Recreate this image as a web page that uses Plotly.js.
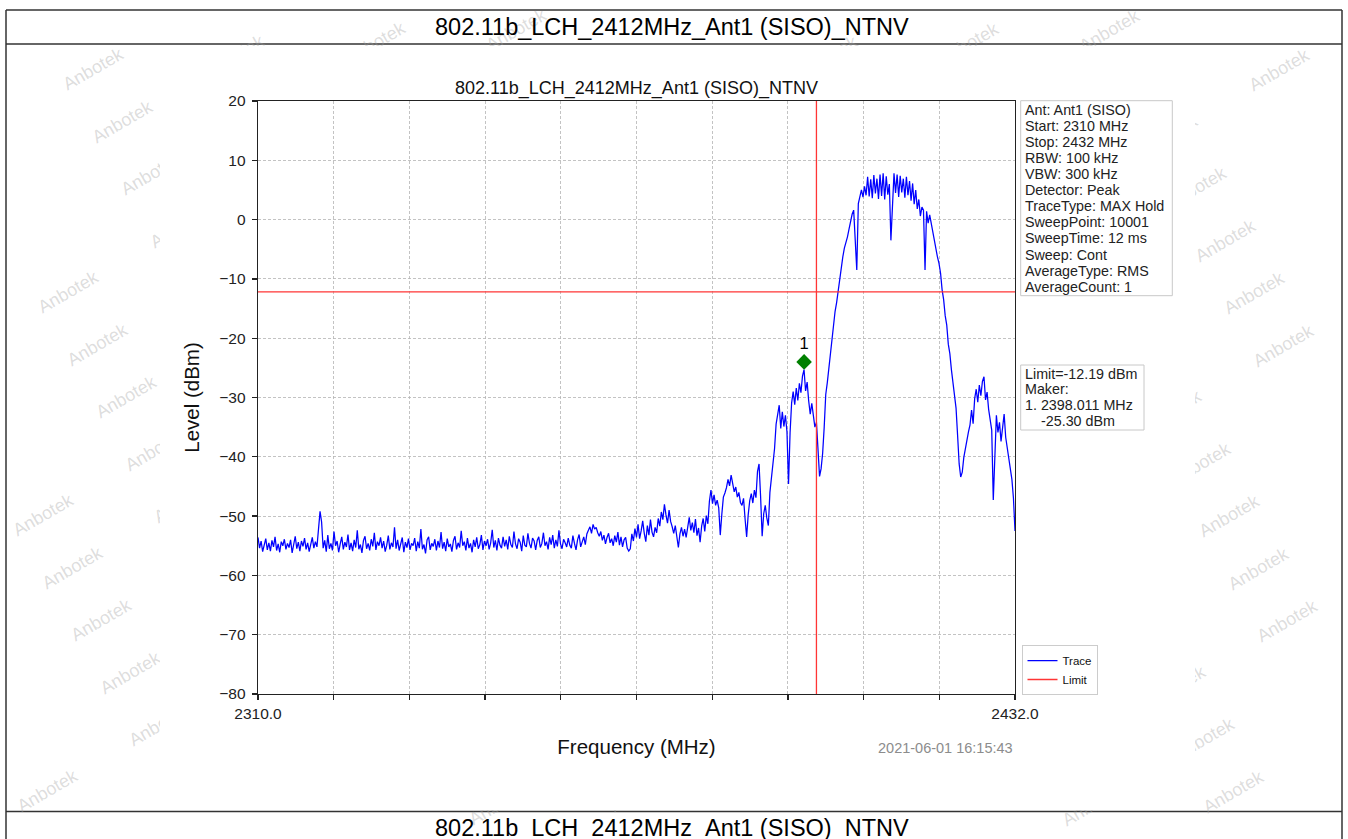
<!DOCTYPE html>
<html><head><meta charset="utf-8">
<script src="https://cdn.plot.ly/plotly-3.0.1.min.js"></script>
<style>
html,body{margin:0;padding:0;background:#fff;width:1348px;height:839px;overflow:hidden;}
#bg{position:absolute;left:0;top:0;width:1348px;height:839px;}
#chart{position:absolute;left:160px;top:46px;width:1035px;height:764px;}
</style></head><body>
<div id="bg"></div><div id="chart"></div>
<script>
// ---------------- data ----------------
const pageTitle = '802.11b_LCH_2412MHz_Ant1 (SISO)_NTNV';
const chartTitle = '802.11b_LCH_2412MHz_Ant1 (SISO)_NTNV';
const xAxisTitle = 'Frequency (MHz)';
const yAxisTitle = 'Level (dBm)';
const timestamp = '2021-06-01 16:15:43';
const watermarkText = 'Anbotek';

const startFreq = 2310;
const stopFreq = 2432;
const freqStep = 0.25;   // MHz between the read-off points
const levelRange = [-80, 20];

// Trace levels (dBm), every 0.25 MHz from 2310 MHz
const traceLevels = [
-53.6,-55.4,-54.2,-56.0,-54.9,-53.8,-55.7,-54.5,-55.9,-54.1,-55.2,-53.5,-55.8,-54.7,-56.1,-54.3,-55.0,-53.9,-55.6,-54.6,
-55.3,-54.0,-56.2,-54.8,-53.4,-55.5,-54.4,-55.9,-54.2,-55.1,-53.7,-55.6,-54.5,-56.0,-54.9,-53.6,-55.4,-54.3,-55.2,-51.5,
-49.2,-51.0,-55.4,-54.1,-56.0,-53.2,-55.5,-54.6,-55.8,-52.6,-55.0,-54.2,-56.1,-54.7,-53.5,-55.6,-54.4,-55.2,-53.1,-55.7,
-54.5,-55.9,-54.0,-55.3,-52.4,-55.6,-54.8,-56.2,-54.1,-53.4,-55.5,-54.6,-55.8,-53.9,-55.1,-52.8,-55.7,-54.3,-55.0,-53.6,
-55.4,-54.2,-56.0,-54.9,-53.3,-55.6,-54.5,-55.2,-51.9,-55.5,-54.0,-55.8,-54.7,-53.6,-56.1,-54.4,-55.3,-53.8,-55.7,-54.6,
-55.0,-53.7,-55.9,-54.3,-55.4,-52.2,-55.6,-54.8,-56.3,-54.0,-53.5,-55.7,-54.6,-55.1,-53.9,-55.8,-54.2,-55.3,-52.7,-55.5,
-54.4,-55.9,-53.8,-55.2,-54.7,-56.0,-54.1,-53.4,-55.6,-54.5,-55.3,-52.5,-55.0,-54.3,-55.8,-53.7,-55.4,-54.6,-56.1,-54.0,
-55.2,-53.6,-55.5,-54.8,-53.2,-55.7,-54.2,-55.0,-53.9,-55.6,-54.5,-52.3,-55.3,-54.1,-55.8,-53.7,-54.9,-55.4,-53.5,-55.1,
-54.0,-55.6,-53.4,-54.8,-55.3,-52.6,-54.7,-55.5,-53.8,-54.4,-55.9,-53.3,-54.9,-55.2,-52.9,-54.6,-55.4,-53.7,-54.2,-55.7,
-54.1,-53.5,-55.3,-54.6,-52.8,-55.0,-54.3,-55.6,-53.6,-54.8,-53.2,-55.4,-54.0,-55.1,-52.4,-54.7,-55.5,-53.9,-54.5,-55.2,
-53.7,-54.9,-55.4,-53.3,-54.6,-55.7,-54.0,-53.1,-55.2,-54.4,-53.5,-54.8,-53.0,-52.4,-51.8,-52.9,-51.4,-52.2,-51.9,-52.8,
-53.4,-52.6,-54.1,-53.2,-54.7,-53.6,-52.9,-54.5,-53.8,-55.0,-53.3,-54.4,-52.7,-54.9,-53.5,-55.2,-54.0,-53.6,-55.4,-55.9,
-55.5,-53.0,-54.2,-52.1,-53.6,-51.4,-53.8,-52.5,-50.8,-52.9,-54.3,-51.6,-53.2,-50.6,-52.7,-53.5,-51.9,-52.8,-50.4,-51.7,
-49.3,-50.6,-48.0,-49.8,-51.2,-49.0,-50.9,-51.8,-52.9,-51.6,-53.7,-55.3,-53.0,-51.9,-53.4,-52.2,-53.6,-51.5,-50.2,-52.4,
-51.1,-52.8,-50.5,-53.3,-52.0,-54.4,-51.7,-50.4,-52.6,-49.9,-51.3,-47.5,-45.6,-47.9,-46.4,-48.2,-47.3,-48.6,-53.2,-49.7,
-46.8,-46.1,-45.2,-43.8,-44.9,-43.1,-44.6,-45.9,-45.1,-46.8,-46.0,-47.7,-48.2,-47.0,-50.5,-53.5,-49.8,-47.4,-46.2,-47.8,
-45.6,-46.9,-42.5,-41.2,-46.7,-53.4,-49.6,-48.2,-50.3,-51.6,-46.0,-43.5,-40.8,-38.6,-34.5,-32.6,-31.3,-35.2,-32.4,-34.9,
-33.0,-35.8,-44.6,-36.0,-30.9,-29.0,-31.2,-28.4,-30.5,-27.6,-29.2,-26.4,-25.3,-28.9,-27.4,-30.6,-32.8,-31.0,-33.6,-35.0,
-34.2,-39.4,-43.3,-42.0,-39.4,-35.0,-29.5,-27.5,-25.0,-23.5,-20.5,-18.6,-15.5,-14.0,-12.0,-10.2,-7.5,-6.3,-4.8,-4.0,
-2.9,-1.6,-0.1,0.9,1.6,-3.5,-8.5,2.7,4.2,5.0,3.8,5.6,4.1,7.2,3.9,6.8,3.6,7.5,4.4,6.9,
3.5,7.6,4.0,7.8,3.4,7.3,4.2,6.0,-3.5,2.4,7.8,4.5,7.6,3.8,7.4,4.6,6.9,3.7,7.2,4.1,
6.5,3.2,6.1,2.6,5.0,1.8,3.4,0.6,2.1,1.6,-8.5,1.4,-0.6,0.8,-0.7,-2.2,-3.5,-4.6,-6.3,-7.4,
-9.0,-11.8,-13.5,-16.2,-17.8,-21.0,-22.6,-25.3,-27.4,-29.6,-31.8,-36.4,-41.2,-43.4,-42.6,-40.1,-38.5,-37.6,-35.8,-34.6,
-32.1,-34.4,-30.2,-28.6,-30.8,-27.9,-29.7,-27.3,-26.5,-30.4,-29.1,-32.0,-33.6,-35.5,-47.3,-38.8,-33.0,-35.9,-34.2,-37.4,
-34.8,-32.8,-36.7,-38.5,-40.3,-42.4,-43.8,-47.0,-52.5
];

const limitLevel = -12.19;       // dBm
const bandEdgeFreq = 2400;       // MHz
const markerFreq = 2398.011;     // MHz
const markerLevel = -25.30;      // dBm
const markerLabel = '1';
const markerDisplayOffset = 1.3; // the diamond sits slightly above the point in the picture

const xTickVals = [2310, 2322.2, 2334.4, 2346.6, 2358.8, 2371.0, 2383.2, 2395.4, 2407.6, 2419.8, 2432];
const xTickText = ['2310.0', '', '', '', '', '', '', '', '', '', '2432.0'];
const yTickVals = [20, 10, 0, -10, -20, -30, -40, -50, -60, -70, -80];

const infoLines = ['Ant: Ant1 (SISO)', 'Start: 2310 MHz', 'Stop: 2432 MHz', 'RBW: 100 kHz', 'VBW: 300 kHz',
  'Detector: Peak', 'TraceType: MAX Hold', 'SweepPoint: 10001', 'SweepTime: 12 ms', 'Sweep: Cont',
  'AverageType: RMS', 'AverageCount: 1'];
const limitInfoLines = ['Limit=-12.19 dBm', 'Maker:', '1. 2398.011 MHz', '-25.30 dBm'];
const limitInfoIndent = [0, 0, 0, 16];

// ---------------- styling / layout ----------------
const FONT = 'Liberation Sans, Arial, Helvetica, sans-serif';
const traceFreqs = traceLevels.map((_, i) => startFreq + i * freqStep);

// background page (frame, outer titles, watermark)
const bgShapes = [];
const frameLine = {color: '#333', width: 1.5};
[[6, 10, 1342, 10], [6, 44, 1342, 44], [6, 811.5, 1342, 811.5], [6, 10, 6, 839], [1342, 10, 1342, 839]]
  .forEach(s => bgShapes.push({type: 'line', xref: 'x', yref: 'y', x0: s[0], y0: s[1], x1: s[2], y1: s[3], line: frameLine}));
const bgAnn = [];
for (let i = -12; i <= 3; i++) {
  for (let k = -6; k <= 18; k++) {
    const x = 10 - 141 * i + 29 * k, y = 187 + 13 * i + 52.5 * k;
    if (x < 40 || x > 1306 || y < 26 || y > 812) continue;
    bgAnn.push({x: x, y: y, xref: 'x', yref: 'y', text: watermarkText, showarrow: false, textangle: -30,
      font: {family: FONT, size: 18, color: 'rgba(160,160,160,0.36)'}});
  }
}
bgAnn.push({x: 672, y: 27, xref: 'x', yref: 'y', text: pageTitle, showarrow: false,
  font: {family: FONT, size: 23.5, color: '#000'}});
bgAnn.push({x: 672, y: 828, xref: 'x', yref: 'y', text: pageTitle, showarrow: false,
  font: {family: FONT, size: 23.5, color: '#000'}});

Plotly.newPlot('bg', [], {
  width: 1348, height: 839, margin: {l: 0, r: 0, t: 0, b: 0},
  paper_bgcolor: '#fff', plot_bgcolor: '#fff', showlegend: false,
  xaxis: {range: [0, 1348], visible: false, fixedrange: true},
  yaxis: {range: [839, 0], visible: false, fixedrange: true},
  shapes: bgShapes, annotations: bgAnn
}, {displayModeBar: false, staticPlot: true});

// chart: page pixel -> paper helpers (plot area spans page x 258..1015, y 101..694)
const PL = 258, PR = 1015, PT = 101, PB = 694;
const px = X => (X - PL) / (PR - PL);
const py = Y => (PB - Y) / (PB - PT);

const traces = [
  {x: traceFreqs, y: traceLevels, type: 'scatter', mode: 'lines', name: 'Trace',
   line: {color: '#0000ff', width: 1.25}},
  {x: [startFreq, stopFreq], y: [limitLevel, limitLevel], type: 'scatter', mode: 'lines', name: 'Limit',
   line: {color: '#ff3535', width: 1.3}},
  {x: [bandEdgeFreq, bandEdgeFreq], y: levelRange, type: 'scatter', mode: 'lines', showlegend: false,
   line: {color: '#ff3535', width: 1.3}},
  {x: [markerFreq], y: [markerLevel + markerDisplayOffset], type: 'scatter', mode: 'markers+text', showlegend: false,
   text: [markerLabel], textposition: 'top center', textfont: {family: FONT, size: 16.5, color: '#000'},
   marker: {symbol: 'diamond', size: 12, color: '#008000'}}
];

const ann = [];
const shapes = [];
infoLines.forEach((t, k) => ann.push({xref: 'paper', yref: 'paper', x: px(1023), y: py(110 + 16.06 * k),
  xanchor: 'left', yanchor: 'middle', showarrow: false, text: t, font: {family: FONT, size: 14.3, color: '#222'}}));
limitInfoLines.forEach((t, k) => ann.push({xref: 'paper', yref: 'paper', x: px(1023 + limitInfoIndent[k]), y: py(373.5 + 15.8 * k),
  xanchor: 'left', yanchor: 'middle', showarrow: false, text: t, font: {family: FONT, size: 14.3, color: '#222'}}));
shapes.push({type: 'rect', xref: 'paper', yref: 'paper', x0: px(1020.7), x1: px(1172.3), y0: py(100.7), y1: py(295.7),
  line: {color: '#c8c8c8', width: 1}, fillcolor: 'rgba(255,255,255,0.8)', layer: 'above'});
shapes.push({type: 'rect', xref: 'paper', yref: 'paper', x0: px(1020.7), x1: px(1144), y0: py(365), y1: py(430),
  line: {color: '#c8c8c8', width: 1}, fillcolor: 'rgba(255,255,255,0.8)', layer: 'above'});
ann.push({xref: 'paper', yref: 'paper', x: px(1015), y: py(748), xanchor: 'right', yanchor: 'middle', showarrow: false,
  text: timestamp, font: {family: FONT, size: 14.5, color: '#8c8c8c'}});

const axisCommon = {
  showline: true, mirror: true, linecolor: '#222', linewidth: 1.3,
  ticks: 'outside', ticklen: 5, tickwidth: 1.3, tickcolor: '#222',
  showgrid: true, gridcolor: '#b4b4b4', gridwidth: 0.8, griddash: '3px,2px',
  zeroline: false, tickfont: {family: FONT, size: 15.5, color: '#222'}, fixedrange: true
};

Plotly.newPlot('chart', traces, {
  width: 1035, height: 764,
  margin: {l: 98, r: 180, t: 55, b: 116},
  paper_bgcolor: '#ffffff', plot_bgcolor: '#ffffff',
  font: {family: FONT, color: '#222'},
  title: {text: chartTitle, font: {family: FONT, size: 18, color: '#111'},
          xref: 'paper', x: 0.5, xanchor: 'center', yref: 'container', y: 1 - (88 - 46) / 764, yanchor: 'middle'},
  xaxis: Object.assign({}, axisCommon, {range: [startFreq, stopFreq], tickmode: 'array', tickvals: xTickVals, ticktext: xTickText,
          title: {text: xAxisTitle, font: {family: FONT, size: 20.5, color: '#111'}, standoff: 18}}),
  yaxis: Object.assign({}, axisCommon, {range: levelRange, tickmode: 'array', tickvals: yTickVals, ticklabelstandoff: 3,
          title: {text: yAxisTitle, font: {family: FONT, size: 20.5, color: '#111'}, standoff: 14}}),
  showlegend: true,
  legend: {x: px(1021.5), xanchor: 'left', y: py(695), yanchor: 'bottom', bgcolor: '#fff',
           bordercolor: '#cccccc', borderwidth: 1, font: {family: FONT, size: 11.5, color: '#111'},
           itemwidth: 30, tracegroupgap: 0},
  annotations: ann, shapes: shapes
}, {displayModeBar: false, staticPlot: true});
</script>
</body></html>
